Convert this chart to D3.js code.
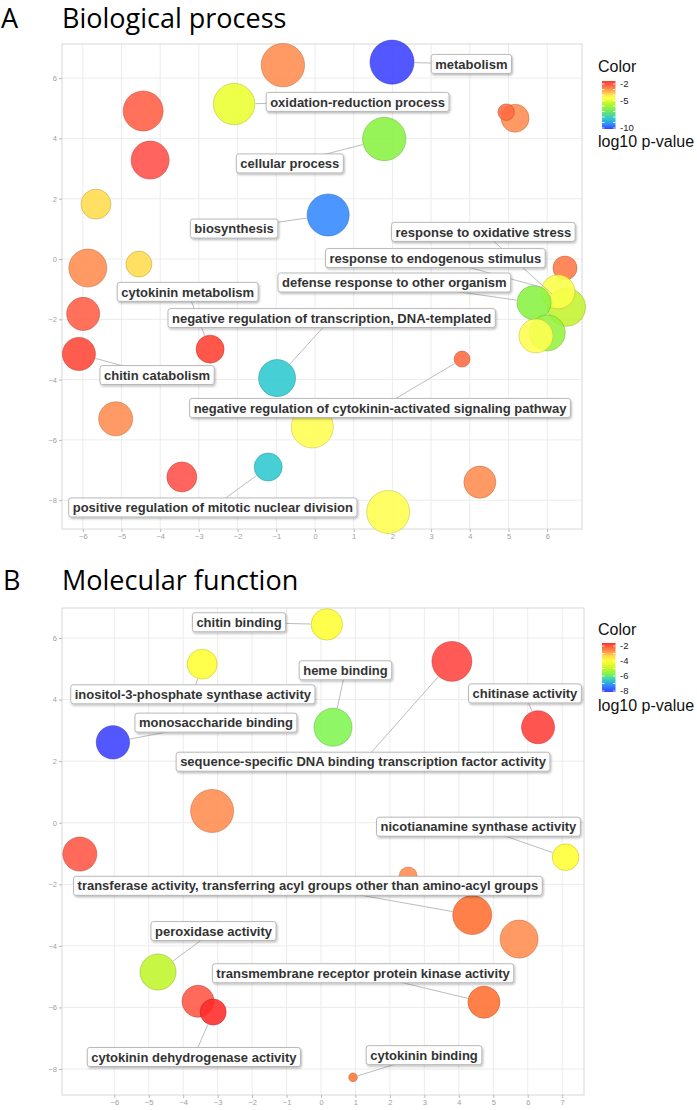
<!DOCTYPE html>
<html><head><meta charset="utf-8">
<script src="https://cdn.jsdelivr.net/npm/d3@7"></script>
<style>body{margin:0;background:#fff} svg{display:block}</style>
</head><body>
<svg id="c" width="697" height="1110"></svg>
<script>
// ---------- Panel A: Biological process ----------
const bpX    = [-0.83,-2.09,-4.44,-4.26,-5.66,-5.87,-4.55,0.34,1.99,1.79,5.17,4.94,6.5,6.46,6.28,5.66,6.0,5.71,3.8,4.26,1.89,-5.99,-6.1,-2.71,-0.98,-5.15,-0.07,-1.21,-3.44];
const bpY    = [6.43,5.14,4.91,3.28,1.82,-0.3,-0.17,1.46,6.53,3.98,4.67,4.87,-1.6,-0.3,-1.09,-1.45,-2.45,-2.55,-3.32,-7.4,-8.39,-1.82,-3.15,-2.99,-3.95,-5.3,-5.57,-6.9,-7.23];
const bpSize = [4.82,4.6,4.44,4.22,3.33,4.22,2.89,4.67,4.89,4.82,3.11,1.84,4.22,2.67,3.78,3.78,4.0,3.78,1.78,3.56,4.78,3.67,3.67,3.11,4.11,3.78,4.67,3.11,3.33];
const bpLogP = [-3.3,-5.2,-2.6,-2.4,-4.2,-3.3,-4.2,-9.3,-10,-6.6,-3.3,-2.8,-5.7,-3.0,-4.9,-6.6,-6.4,-4.8,-2.8,-3.3,-4.8,-2.6,-2.2,-2.1,-8.3,-3.3,-4.8,-8.3,-2.4];
const bpLabels = ["metabolism","oxidation-reduction process","cellular process","biosynthesis","response to oxidative stress","response to endogenous stimulus","defense response to other organism","cytokinin metabolism","negative regulation of transcription, DNA-templated","chitin catabolism","negative regulation of cytokinin-activated signaling pathway","positive regulation of mitotic nuclear division"];
const bpLabelTarget = [8,1,9,7,12,14,15,23,24,22,18,27];
const bpLabelX = [4.04,1.10,-0.65,-2.09,4.35,3.11,2.05,-3.29,0.43,-4.08,1.68,-2.64];
const bpLabelY = [6.47,5.21,3.17,1.01,0.90,0.03,-0.78,-1.09,-1.96,-3.85,-4.94,-8.24];
const bpXTicks = [-6,-5,-4,-3,-2,-1,0,1,2,3,4,5,6];
const bpYTicks = [-8,-6,-4,-2,0,2,4,6];
const bpLegendTicks = [-2,-5,-10];

// ---------- Panel B: Molecular function ----------
const mfX    = [0.17,-3.45,-6.04,0.35,-3.16,3.8,6.3,-7.0,-4.73,-3.57,-3.13,7.1,2.53,4.39,5.75,4.73,0.93];
const mfY    = [6.44,5.15,2.61,3.1,0.38,5.24,3.1,-1.02,-4.85,-5.8,-6.15,-1.12,-1.73,-3.0,-3.78,-5.83,-8.27];
const mfSize = [3.49,3.33,3.71,4.22,4.78,4.44,3.67,3.78,4.0,3.56,2.89,2.96,2.0,4.33,4.22,3.56,0.96];
const mfLogP = [-4.2,-4.2,-8,-5.8,-3.0,-2.2,-2.15,-2.35,-5.2,-2.35,-2.0,-4.2,-3.0,-2.6,-3.0,-2.6,-2.7];
const mfLabels = ["chitin binding","inositol-3-phosphate synthase activity","monosaccharide binding","heme binding","sequence-specific DNA binding transcription factor activity","chitinase activity","nicotianamine synthase activity","transferase activity, transferring acyl groups other than amino-acyl groups","peroxidase activity","transmembrane receptor protein kinase activity","cytokinin dehydrogenase activity","cytokinin binding"];
const mfLabelTarget = [0,1,2,3,5,6,11,13,8,15,10,16];
const mfLabelX = [-2.38,-3.72,-3.05,0.71,1.22,5.92,4.57,-0.38,-3.12,1.22,-3.69,2.99];
const mfLabelY = [6.51,4.17,3.25,4.95,1.98,4.20,-0.13,-2.05,-3.52,-4.89,-7.61,-7.55];
const mfXTicks = [-6,-5,-4,-3,-2,-1,0,1,2,3,4,5,6,7];
const mfYTicks = [-8,-6,-4,-2,0,2,4,6];
const mfLegendTicks = [-2,-4,-6,-8];

// ---------- drawing ----------
const svg = d3.select("#c");
const defs = svg.append("defs");
defs.append("filter").attr("id","sh").attr("x","-10%").attr("y","-40%").attr("width","120%").attr("height","190%")
  .append("feDropShadow").attr("dx",1).attr("dy",1.5).attr("stdDeviation",0.9)
  .attr("flood-color","#000").attr("flood-opacity",0.28);

const rScale = d3.scaleLinear().domain([0,5]).range([0,22.5]);
const labelFont = "'Liberation Sans', Arial, Helvetica, sans-serif";

function drawPanel(cfg){
  const g = svg.append("g");
  const x = d3.scaleLinear().domain(cfg.xDomain).range([cfg.left, cfg.right]);
  const y = d3.scaleLinear().domain(cfg.yDomain).range([cfg.bottom, cfg.top]);
  const color = d3.scaleLinear().domain(cfg.colorDomain).range(cfg.colorRange).clamp(true);

  // title
  g.append("text").attr("x", cfg.letterX).attr("y", cfg.titleY).text(cfg.letter)
    .attr("font-family","'Open Sans', sans-serif").attr("font-size",27).attr("fill","#000");
  g.append("text").attr("x", 62).attr("y", cfg.titleY).text(cfg.title)
    .attr("font-family","'Open Sans', sans-serif").attr("font-size",27).attr("fill","#000");

  // grid
  g.append("g").selectAll("line").data(cfg.xTicks).join("line")
    .attr("x1", d=>x(d)).attr("x2", d=>x(d)).attr("y1", cfg.top).attr("y2", cfg.bottom)
    .attr("stroke","#ececec").attr("stroke-width",1);
  g.append("g").selectAll("line").data(cfg.yTicks).join("line")
    .attr("y1", d=>y(d)).attr("y2", d=>y(d)).attr("x1", cfg.left).attr("x2", cfg.right)
    .attr("stroke","#ececec").attr("stroke-width",1);
  g.append("rect").attr("x",cfg.left).attr("y",cfg.top).attr("width",cfg.right-cfg.left).attr("height",cfg.bottom-cfg.top)
    .attr("fill","none").attr("stroke","#d8d8d8").attr("stroke-width",1);

  // axes
  const xAxis = d3.axisBottom(x).tickValues(cfg.xTicks).tickSize(3).tickPadding(2).tickFormat(d3.format("d"));
  const yAxis = d3.axisLeft(y).tickValues(cfg.yTicks).tickSize(3).tickPadding(2).tickFormat(d3.format("d"));
  const ax = g.append("g").attr("transform",`translate(0,${cfg.bottom})`).call(xAxis);
  const ay = g.append("g").attr("transform",`translate(${cfg.left},0)`).call(yAxis);
  [ax,ay].forEach(a=>{
    a.select(".domain").remove();
    a.selectAll("line").attr("stroke","#b8b8b8");
    a.selectAll("text").attr("fill","#a0a0a0").attr("font-size",7.5).attr("font-family",labelFont);
  });

  // bubbles
  const pts = cfg.xs.map((v,i)=>({x:v, y:cfg.ys[i], s:cfg.sizes[i], p:cfg.ps[i]}));
  g.append("g").selectAll("circle").data(pts).join("circle")
    .attr("cx", d=>x(d.x)).attr("cy", d=>y(d.y)).attr("r", d=>rScale(d.s))
    .attr("fill", d=>color(d.p)).attr("fill-opacity",0.88)
    .attr("stroke", d=>d3.color(color(d.p)).darker(0.9)).attr("stroke-opacity",0.55).attr("stroke-width",0.9);

  // labels
  const labs = cfg.labels.map((t,i)=>({t, lx:cfg.lxs[i], ly:cfg.lys[i], target: pts[cfg.targets[i]]}));
  const segG = g.append("g");
  const labG = g.append("g");
  labs.forEach(l=>{
    const cx = x(l.lx), cy = y(l.ly);
    const tx = x(l.target.x), ty = y(l.target.y), r = rScale(l.target.s);
    const dx = tx-cx, dy = ty-cy, len = Math.hypot(dx,dy);
    const ex = tx - dx/len*(r+0.5), ey = ty - dy/len*(r+0.5);
    segG.append("line").attr("x1",cx).attr("y1",cy).attr("x2",ex).attr("y2",ey)
      .attr("stroke","#b4b4b4").attr("stroke-width",0.9);
    const lg = labG.append("g");
    const rect = lg.append("rect");
    const txt = lg.append("text").attr("x",cx).attr("y",cy).attr("text-anchor","middle").attr("dy","0.36em")
      .attr("font-family",labelFont).attr("font-weight","bold").attr("font-size",13).attr("fill","#333").text(l.t);
    const w = txt.node().getComputedTextLength();
    rect.attr("x", cx - w/2 - 4).attr("y", cy - 9.5).attr("width", w + 8).attr("height", 19).attr("rx",2.5)
      .attr("fill","#fff").attr("stroke","#a8a8a8").attr("stroke-width",0.8).attr("filter","url(#sh)");
  });

  // legend
  const lgG = g.append("g");
  lgG.append("text").attr("x", 598).attr("y", cfg.legTitleY).text("Color")
    .attr("font-family",labelFont).attr("font-size",16).attr("fill","#111");
  const gid = "grad"+cfg.letter;
  const grad = defs.append("linearGradient").attr("id",gid).attr("x1",0).attr("x2",0).attr("y1",0).attr("y2",1);
  const lo = cfg.colorDomain[0], hi = cfg.colorDomain[cfg.colorDomain.length-1];
  d3.range(0,1.0001,0.05).forEach(t=>{
    grad.append("stop").attr("offset", t).attr("stop-color", color(hi + (lo-hi)*t));
  });
  lgG.append("rect").attr("x",602).attr("y",cfg.barTop).attr("width",13.5).attr("height",cfg.barBottom-cfg.barTop)
    .attr("fill",`url(#${gid})`);
  const ls = d3.scaleLinear().domain([cfg.legendTicks[0], cfg.legendTicks[cfg.legendTicks.length-1]])
    .range([cfg.barTop+3, cfg.barBottom-1]);
  const minor = d3.range(cfg.legendTicks[0], cfg.legendTicks[cfg.legendTicks.length-1]-0.01, -1);
  lgG.selectAll("line.mt").data(minor).join("line")
    .attr("x1",602).attr("x2",604.5).attr("y1",d=>ls(d)).attr("y2",d=>ls(d)).attr("stroke","#fff").attr("stroke-width",0.8);
  lgG.selectAll("line.mt2").data(minor).join("line")
    .attr("x1",613).attr("x2",615.5).attr("y1",d=>ls(d)).attr("y2",d=>ls(d)).attr("stroke","#fff").attr("stroke-width",0.8);
  lgG.selectAll("text.tk").data(cfg.legendTicks).join("text")
    .attr("x",620).attr("y",d=>ls(d)).attr("dy","0.35em").text(d=>d)
    .attr("font-family",labelFont).attr("font-size",9.5).attr("fill","#222");
  lgG.append("text").attr("x", 598).attr("y", cfg.legSubY).text("log10 p-value")
    .attr("font-family",labelFont).attr("font-size",16).attr("fill","#111");
}

drawPanel({
  letter:"A", letterX:1, title:"Biological process", titleY:28,
  left:62, right:582, top:44, bottom:529,
  xDomain:[-6.537, 6.899], yDomain:[-8.955, 7.131],
  xTicks:bpXTicks, yTicks:bpYTicks,
  xs:bpX, ys:bpY, sizes:bpSize, ps:bpLogP,
  labels:bpLabels, targets:bpLabelTarget, lxs:bpLabelX, lys:bpLabelY,
  colorDomain:[-10,-9.3,-8.3,-6.6,-5.7,-5.2,-4.8,-4.2,-3.3,-2.8,-2.4,-2],
  colorRange:['#3a40ff','#3388ff','#2ec8d0','#88f242','#c4f230','#eaff30','#ffff50','#ffdc4c','#ff8c50','#ff6a40','#ff5048','#ff3a28'],
  legendTicks:bpLegendTicks, legTitleY:72, barTop:81, barBottom:129, legSubY:147
});

drawPanel({
  letter:"B", letterX:3, title:"Molecular function", titleY:590,
  left:62, right:584, top:608, bottom:1095,
  xDomain:[-7.518, 7.634], yDomain:[-8.844, 6.973],
  xTicks:mfXTicks, yTicks:mfYTicks,
  xs:mfX, ys:mfY, sizes:mfSize, ps:mfLogP,
  labels:mfLabels, targets:mfLabelTarget, lxs:mfLabelX, lys:mfLabelY,
  colorDomain:[-8,-7.2,-6.6,-5.8,-5.2,-4.2,-3.6,-3.0,-2.6,-2.3,-2],
  colorRange:['#3a40ff','#3388ff','#2ec8d0','#80f550','#c0f52a','#ffff33','#ffdc4c','#ff8c50','#ff7030','#ff5048','#ff2a2a'],
  legendTicks:mfLegendTicks, legTitleY:635, barTop:643, barBottom:692, legSubY:711
});
</script>
</body></html>
